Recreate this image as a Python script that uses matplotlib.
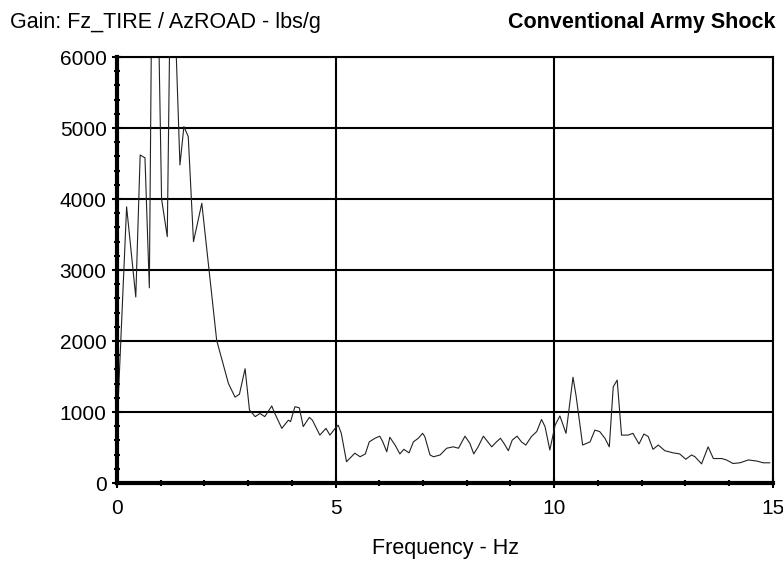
import matplotlib
matplotlib.use('Agg')
import matplotlib.pyplot as plt
from matplotlib.ticker import MultipleLocator

plt.rcParams['font.family'] = ['Liberation Sans', 'DejaVu Sans']

# gain curve (Hz, lbs/g)
freq = [0.03, 0.22, 0.43, 0.53, 0.64, 0.74, 0.79, 0.95, 1.02, 1.15, 1.21, 1.33,
        1.44, 1.53, 1.63, 1.75, 1.94, 2.28, 2.55, 2.70, 2.80, 2.93, 3.03, 3.16,
        3.27, 3.38, 3.54, 3.61, 3.77, 3.92, 3.97, 4.07, 4.17, 4.26, 4.40, 4.47,
        4.64, 4.78, 4.87, 4.99, 5.06, 5.13, 5.25, 5.44, 5.56, 5.68, 5.77, 5.90,
        6.01, 6.08, 6.17, 6.24, 6.36, 6.47, 6.56, 6.68, 6.78, 6.89, 6.99, 7.04,
        7.16, 7.24, 7.39, 7.54, 7.69, 7.81, 7.96, 8.07, 8.16, 8.26, 8.38, 8.45,
        8.57, 8.68, 8.77, 8.85, 8.95, 9.04, 9.15, 9.25, 9.35, 9.48, 9.60, 9.71,
        9.79, 9.90, 10.02, 10.13, 10.27, 10.43, 10.50, 10.65, 10.82, 10.93, 11.04,
        11.16, 11.26, 11.35, 11.44, 11.54, 11.69, 11.80, 11.94, 12.05, 12.15,
        12.26, 12.38, 12.53, 12.72, 12.87, 13.01, 13.14, 13.22, 13.37, 13.52,
        13.64, 13.83, 13.94, 14.09, 14.25, 14.44, 14.63, 14.78, 14.93]
gain = [1190, 3890, 2620, 4620, 4580, 2750, 6500, 6500, 4000, 3470, 6500, 6500,
        4480, 5020, 4880, 3400, 3940, 2010, 1400, 1210, 1250, 1610, 1030, 935,
        980, 935, 1085, 980, 770, 885, 865, 1075, 1060, 795, 925, 885,
        675, 770, 675, 770, 815, 700, 300, 420, 370, 410, 580, 630,
        660, 580, 440, 645, 535, 410, 475, 425, 580, 630, 700, 655,
        395, 370, 395, 490, 510, 490, 660, 560, 410, 510, 660, 605,
        510, 580, 630, 560, 455, 605, 660, 580, 535, 655, 725, 895,
        795, 465, 815, 945, 700, 1490, 1230, 535, 580, 745, 725,
        630, 510, 1355, 1450, 675, 675, 700, 550, 690, 655,
        475, 535, 455, 425, 410, 335, 395, 370, 270, 510,
        345, 345, 325, 275, 285, 325, 310, 285, 285]

fig = plt.figure(figsize=(7.83, 5.68), dpi=100)
ax = fig.add_axes([0.1494, 0.1496, 0.8376, 0.75])

ax.plot(freq, gain, color='#222222', lw=0.8)

ax.set_xlim(0, 15)
ax.set_ylim(0, 6000)
ax.xaxis.set_major_locator(MultipleLocator(5))
ax.xaxis.set_minor_locator(MultipleLocator(1))
ax.yaxis.set_major_locator(MultipleLocator(1000))
ax.yaxis.set_minor_locator(MultipleLocator(200))
ax.grid(True, which='major', color='black', lw=1.5)

for s in ['left', 'bottom']:
    ax.spines[s].set_linewidth(3)
for s in ['top', 'right']:
    ax.spines[s].set_linewidth(1.5)

ax.tick_params(which='major', direction='inout', length=7, width=1.5,
               labelsize=15)
ax.tick_params(axis='y', which='major', pad=4)
ax.tick_params(axis='x', which='major', pad=8)
ax.tick_params(which='minor', direction='inout', length=4, width=1.5)

# x label placed by hand, the scan has it well below the ticks
fig.text(0.569, 0.034, 'Frequency - Hz', fontsize=15.5, ha='center', va='center')

fig.text(0.013, 0.960, 'Gain: Fz_TIRE / AzROAD - lbs/g', fontsize=15.5,
         ha='left', va='center')
fig.text(0.99, 0.960, 'Conventional Army Shock', fontsize=15.5,
         fontweight='bold', ha='right', va='center')

fig.savefig('out.png', dpi=100)
